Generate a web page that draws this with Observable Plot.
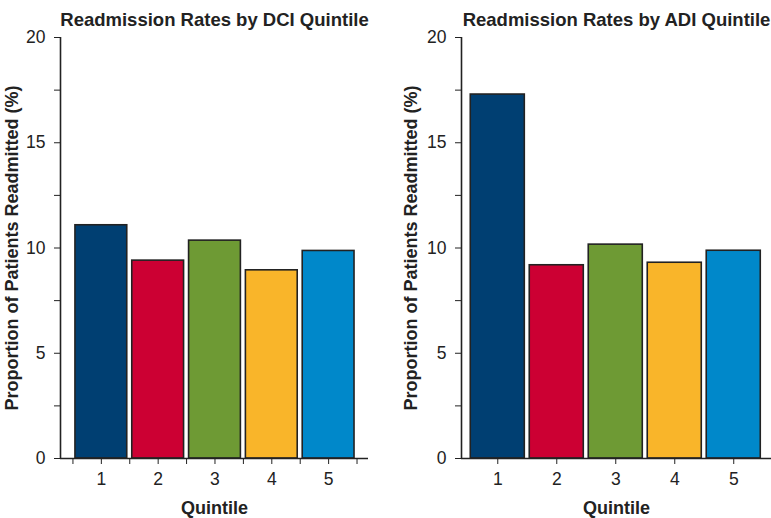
<!DOCTYPE html>
<html>
<head>
<meta charset="utf-8">
<script src="https://cdn.jsdelivr.net/npm/d3@7"></script>
<script src="https://cdn.jsdelivr.net/npm/@observablehq/plot@0.6"></script>
<style>
  html, body { margin: 0; padding: 0; background: #fff; }
  #wrap { display: flex; flex-direction: row; width: 771px; height: 518px; overflow: hidden; }
  svg { font-family: "Liberation Sans", Arial, sans-serif; overflow: visible; }
  g[aria-label="y-axis label"] text, g[aria-label="x-axis label"] text { font-weight: bold; font-size: 18px; }
  g[aria-label="y-axis tick label"] text, g[aria-label="x-axis tick label"] text { font-size: 17.5px; }
  g[aria-label="text"] text { font-size: 18.5px; font-weight: bold; }
</style>
</head>
<body>
<div id="wrap"></div>
<script>
const quintiles = [1, 2, 3, 4, 5];
const dciRates = [11.08, 9.40, 10.35, 8.94, 9.86];
const adiRates = [17.29, 9.18, 10.16, 9.30, 9.87];
const colors = ["#003F72", "#CC0033", "#6E9A34", "#F9B52A", "#0088CA"];
const yTicks = [0, 2.5, 5, 7.5, 10, 12.5, 15, 17.5, 20];
const bandEdges = [0.5, 1.5, 2.5, 3.5, 4.5, 5.5];
const titles = ["Readmission Rates by DCI Quintile", "Readmission Rates by ADI Quintile"];
const yLabel = "Proportion of Patients Readmitted (%)";
const xLabel = "Quintile";

function panel({rates, title, width, marginLeft, marginRight, xDomain, half, minorTicks, labelOffset}) {
  const data = quintiles.map((q, i) => ({q, v: rates[i], c: colors[i]}));
  const marks = [
    Plot.rectY(data, {x1: d => d.q - half, x2: d => d.q + half, y1: 0, y2: "v", fill: "c", stroke: "#222", strokeWidth: 1.6}),
    Plot.axisY({ticks: yTicks, tickFormat: d => d % 5 === 0 ? d : "", tickSize: 6, tickPadding: 9, label: yLabel, labelAnchor: "center", labelOffset: labelOffset, labelArrow: "none"}),
    Plot.axisX({ticks: quintiles, tickFormat: d => String(d), tickSize: 6, tickPadding: 8, label: xLabel, labelAnchor: "center", labelOffset: 55, labelArrow: "none"}),
    Plot.ruleY([0], {stroke: "#222", strokeWidth: 1.6}),
    Plot.ruleX([xDomain[0]], {y1: 0, y2: 20, stroke: "#222", strokeWidth: 1.6}),
    Plot.text([title], {frameAnchor: "top", dy: -25, fill: "#222"})
  ];
  if (minorTicks) {
    marks.splice(3, 0, Plot.axisX({ticks: bandEdges, tickFormat: () => "", tickSize: 6, label: null}));
  }
  return Plot.plot({
    width, height: 518,
    marginTop: 37, marginBottom: 60, marginLeft, marginRight,
    style: {fontFamily: "Liberation Sans, Arial, sans-serif", color: "#222"},
    x: {type: "linear", domain: xDomain},
    y: {domain: [0, 20]},
    color: {type: "identity"},
    marks
  });
}

const wrap = document.getElementById("wrap");
wrap.append(panel({rates: dciRates, title: titles[0], width: 390, marginLeft: 60, marginRight: 22, xDomain: [0.281, 5.702], half: 0.456, minorTicks: true, labelOffset: 55}));
wrap.append(panel({rates: adiRates, title: titles[1], width: 381, marginLeft: 71, marginRight: 0, xDomain: [0.385, 5.64], half: 0.458, minorTicks: false, labelOffset: 57}));
</script>
</body>
</html>
